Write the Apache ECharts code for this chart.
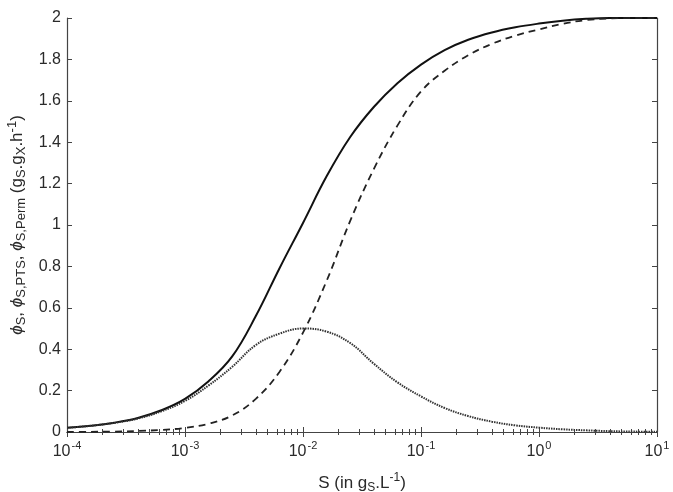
<!DOCTYPE html>
<html>
<head>
<meta charset="utf-8">
<script src="https://cdn.jsdelivr.net/npm/echarts@6/dist/echarts.min.js"></script>
<style>html,body{margin:0;padding:0;background:#fff}#c{width:673px;height:492px}</style>
</head>
<body>
<div id="c"></div>
<script>
// Substrate concentration S (g/L), sampled every 0.2 decade
var sValues = [
  1e-4, 1.585e-4, 2.512e-4, 3.981e-4, 6.310e-4,
  1e-3, 1.585e-3, 2.512e-3, 3.981e-3, 6.310e-3,
  1e-2, 1.585e-2, 2.512e-2, 3.981e-2, 6.310e-2,
  1e-1, 1.585e-1, 2.512e-1, 3.981e-1, 6.310e-1,
  1, 1.585, 2.512, 3.981, 6.310, 10
];
// total uptake phi_S (solid)
var phiS = [
  0.02, 0.03, 0.045, 0.068, 0.105,
  0.16, 0.245, 0.365, 0.56, 0.79,
  1.01, 1.235, 1.425, 1.57, 1.685,
  1.775, 1.845, 1.895, 1.93, 1.955,
  1.973, 1.987, 1.996, 2.0, 2.0, 2.0
];
// PTS uptake phi_S,PTS (dotted)
var phiPTS = [
  0.02, 0.03, 0.044, 0.065, 0.10,
  0.15, 0.225, 0.315, 0.42, 0.475,
  0.50, 0.485, 0.43, 0.33, 0.24,
  0.172, 0.116, 0.077, 0.05, 0.032,
  0.021, 0.013, 0.008, 0.004, 0.002, 0.001
];
// permease uptake phi_S,Perm (dashed)
var phiPerm = [
  0.0, 0.001, 0.002, 0.005, 0.01,
  0.02, 0.04, 0.08, 0.16, 0.29,
  0.48, 0.73, 1.02, 1.27, 1.48,
  1.645, 1.745, 1.82, 1.875, 1.915,
  1.945, 1.972, 1.99, 1.998, 2.0, 2.0
];
var xTickExponents = {'0.0001':'-4','0.001':'-3','0.01':'-2','0.1':'-1','1':'0','10':'1'};

function pairs(ys){ return sValues.map(function(s,i){ return [s, ys[i]]; }); }

var chart = echarts.init(document.getElementById('c'), null, {renderer:'canvas'});
var font = 'Liberation Sans, Arial, sans-serif';
var txt = '#2a2a2a';
var axisCol = '#444';
var tickCommon = {show:true, inside:true, length:5, lineStyle:{color:axisCol, width:1}};
var minorCommon = {show:true, splitNumber:9, length:3, lineStyle:{color:axisCol, width:1}};

chart.setOption({
  animation:false,
  backgroundColor:'#fff',
  grid:{left:67, right:16, top:18, bottom:60, containLabel:false, outerBoundsMode:'none'},
  xAxis:[{
    type:'log', logBase:10, min:1e-4, max:10, position:'bottom',
    axisLine:{show:true, lineStyle:{color:axisCol, width:1.2}},
    axisTick:tickCommon,
    minorTick:minorCommon,
    splitLine:{show:false}, minorSplitLine:{show:false},
    axisLabel:{
      margin:8, fontFamily:font, color:txt,
      formatter:function(v){
        var key = String(+v.toPrecision(6));
        var e = xTickExponents[key];
        if (e === undefined) e = String(Math.round(Math.log10(v)));
        return '{b|10}{s|' + e + '}';
      },
      rich:{
        b:{fontSize:16, fontFamily:font, color:txt, lineHeight:20, verticalAlign:'bottom'},
        s:{fontSize:11, fontFamily:font, color:txt, lineHeight:20, verticalAlign:'top', padding:[0,0,0,1]}
      }
    },
    name:'{n|S (in g}{sub|S}{n|.L}{sup|-1}{n|)}',
    nameLocation:'middle', nameGap:40,
    nameTextStyle:{
      rich:{
        n:{fontSize:17, fontFamily:font, color:txt, lineHeight:22},
        sub:{fontSize:12, fontFamily:font, color:txt, lineHeight:22, verticalAlign:'bottom'},
        sup:{fontSize:12, fontFamily:font, color:txt, lineHeight:22, verticalAlign:'top'}
      }
    }
  },{
    type:'log', logBase:10, min:1e-4, max:10, position:'top',
    axisLine:{show:true, lineStyle:{color:axisCol, width:1.2}},
    axisTick:tickCommon, minorTick:minorCommon,
    axisLabel:{show:false}, splitLine:{show:false}
  }],
  yAxis:[{
    type:'value', min:0, max:2, interval:0.2, position:'left',
    axisLine:{show:true, lineStyle:{color:axisCol, width:1.2}},
    axisTick:tickCommon,
    splitLine:{show:false},
    axisLabel:{fontSize:16, fontFamily:font, color:txt, margin:6},
    name:'{i|ϕ}{sub|S}{n|, }{i|ϕ}{sub|S,PTS}{n|, }{i|ϕ}{sub|S,Perm}{n| (g}{sub|S}{n|.g}{sub|X}{n|.h}{sup|-1}{n|)}',
    nameLocation:'middle', nameRotate:90, nameGap:36,
    nameTextStyle:{
      rich:{
        n:{fontSize:17, fontFamily:font, color:txt, lineHeight:22},
        i:{fontSize:17, fontFamily:font, color:txt, lineHeight:22, fontStyle:'italic'},
        sub:{fontSize:13, fontFamily:font, color:txt, lineHeight:22, verticalAlign:'bottom'},
        sup:{fontSize:13, fontFamily:font, color:txt, lineHeight:22, verticalAlign:'top'}
      }
    }
  },{
    type:'value', min:0, max:2, interval:0.2, position:'right',
    axisLine:{show:true, lineStyle:{color:axisCol, width:1.2}},
    axisTick:tickCommon, axisLabel:{show:false}, splitLine:{show:false}
  }],
  series:[
    {type:'line', name:'phiS', data:pairs(phiS), smooth:0.4, showSymbol:false,
     lineStyle:{color:'#111', width:2, type:'solid'}},
    {type:'line', name:'phiPerm', data:pairs(phiPerm), smooth:0.4, showSymbol:false,
     lineStyle:{color:'#222', width:1.8, type:[7,5]}},
    {type:'line', name:'phiPTS', data:pairs(phiPTS), smooth:0.4, showSymbol:false,
     lineStyle:{color:'#333', width:2, type:[1.5,1]}}
  ]
});
</script>
</body>
</html>
